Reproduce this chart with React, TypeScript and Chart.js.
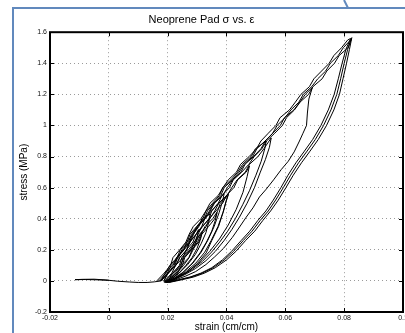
import React, { useEffect, useRef } from 'react';
import { Chart, registerables } from 'chart.js';

Chart.register(...registerables);

// ---------- axis ticks ----------
const xTicks = [-0.02, 0, 0.02, 0.04, 0.06, 0.08, 0.1];
const xTickLabels = ['-0.02', '0', '0.02', '0.04', '0.06', '0.08', '0.1'];
const yTicks = [-0.2, 0, 0.2, 0.4, 0.6, 0.8, 1.0, 1.2, 1.4, 1.6];
const yTickLabels = ['-0.2', '0', '0.2', '0.4', '0.6', '0.8', '1', '1.2', '1.4', '1.6'];

// ---------- data (strain cm/cm, stress MPa) ----------
const preloadStrain = [0.0, -0.004, -0.008, -0.0115, -0.009, -0.005, -0.001, 0.003, 0.007, 0.010, 0.013, 0.0155, 0.0178];
const preloadStress = [0.004, 0.007, 0.009, 0.008, 0.010, 0.011, 0.006, -0.002, -0.007, -0.010, -0.010, -0.006, 0.0];

// stress levels of the loading branches (shared); strain per cycle
const loadStress = [0, 0.05, 0.1, 0.15, 0.2, 0.25, 0.3, 0.35, 0.4, 0.45, 0.5, 0.55, 0.6, 0.65, 0.7, 0.75,
  0.8, 0.85, 0.9, 0.95, 1.0, 1.05, 1.1, 1.15, 1.2, 1.25, 1.3, 1.35, 1.4, 1.45, 1.5, 1.55];

const cycleA1Load = [0.0187, 0.0201, 0.0228, 0.0241, 0.0265, 0.0275, 0.0297];
const cycleA1UnloadStrain = [0.0305, 0.0300, 0.0289, 0.0273, 0.0254, 0.0231, 0.0207, 0.0186];
const cycleA1UnloadStress = [0.33, 0.28, 0.21, 0.15, 0.10, 0.05, 0.015, -0.005];

const cycleA2Load = [0.0198, 0.0223, 0.0245, 0.0253, 0.0276, 0.0297, 0.0308];
const cycleA2UnloadStrain = [0.0318, 0.0312, 0.0300, 0.0283, 0.0262, 0.0238, 0.0212, 0.0190];
const cycleA2UnloadStress = [0.32, 0.27, 0.21, 0.15, 0.10, 0.05, 0.015, -0.006];

const cycleG1Load = [0.0210, 0.0234, 0.0247, 0.0272, 0.0283, 0.0306, 0.0316, 0.0339, 0.0360];
const cycleG1UnloadStrain = [0.0368, 0.0362, 0.0350, 0.0332, 0.0310, 0.0282, 0.0250, 0.0218, 0.0192];
const cycleG1UnloadStress = [0.44, 0.39, 0.32, 0.25, 0.18, 0.11, 0.05, 0.01, -0.008];

const cycleG2Load = [0.0177, 0.0191, 0.0218, 0.0231, 0.0255, 0.0265, 0.0287, 0.0306, 0.0316];
const cycleG2UnloadStrain = [0.0345, 0.0340, 0.0330, 0.0314, 0.0294, 0.0268, 0.0238, 0.0210, 0.0188];
const cycleG2UnloadStress = [0.43, 0.38, 0.31, 0.24, 0.17, 0.105, 0.048, 0.01, -0.008];

const cycleB1Load = [0.0190, 0.0214, 0.0227, 0.0252, 0.0263, 0.0286, 0.0296, 0.0319, 0.0340, 0.0350, 0.0373];
const cycleB1UnloadStrain = [0.0407, 0.0400, 0.0390, 0.0373, 0.0350, 0.0331, 0.0300, 0.0262, 0.0225, 0.0195];
const cycleB1UnloadStress = [0.56, 0.52, 0.45, 0.35, 0.26, 0.18, 0.11, 0.05, 0.012, -0.008];

const cycleB2Load = [0.0203, 0.0228, 0.0250, 0.0258, 0.0281, 0.0302, 0.0313, 0.0327, 0.0353, 0.0370, 0.0379];
const cycleB2UnloadStrain = [0.0405, 0.0398, 0.0388, 0.0371, 0.0348, 0.0326, 0.0296, 0.0259, 0.0222, 0.0192];
const cycleB2UnloadStress = [0.55, 0.51, 0.44, 0.35, 0.26, 0.185, 0.115, 0.055, 0.013, -0.008];

const cycleB3Load = [0.0175, 0.0200, 0.0222, 0.0230, 0.0253, 0.0274, 0.0285, 0.0299, 0.0325, 0.0342, 0.0356];
const cycleB3UnloadStrain = [0.0392, 0.0386, 0.0375, 0.0358, 0.0336, 0.0314, 0.0286, 0.0252, 0.0218, 0.0190];
const cycleB3UnloadStress = [0.56, 0.51, 0.44, 0.35, 0.26, 0.185, 0.115, 0.055, 0.013, -0.008];

const cycleF1Load = [0.0202, 0.0216, 0.0243, 0.0256, 0.0280, 0.0290, 0.0312, 0.0331, 0.0341, 0.0364, 0.0387, 0.0400, 0.0425, 0.0438, 0.0467];
const cycleF1UnloadStrain = [0.0478, 0.0470, 0.0456, 0.0433, 0.0406, 0.0376, 0.0343, 0.0306, 0.0264, 0.0224, 0.0194];
const cycleF1UnloadStress = [0.74, 0.67, 0.57, 0.46, 0.36, 0.27, 0.19, 0.115, 0.055, 0.012, -0.008];

const cycleC1Load = [0.0193, 0.0218, 0.0240, 0.0248, 0.0271, 0.0292, 0.0303, 0.0317, 0.0343, 0.0360, 0.0374, 0.0402,
  0.0418, 0.0436, 0.0464, 0.0478, 0.0507, 0.0527];
const cycleC1UnloadStrain = [0.0552, 0.0546, 0.0532, 0.0515, 0.0495, 0.0470, 0.0444, 0.0418, 0.0392, 0.0362, 0.0330, 0.0295, 0.0258, 0.0222, 0.0195];
const cycleC1UnloadStress = [0.92, 0.86, 0.78, 0.70, 0.60, 0.50, 0.41, 0.33, 0.26, 0.19, 0.13, 0.08, 0.04, 0.008, -0.01];

const cycleC2Load = [0.0170, 0.0194, 0.0207, 0.0232, 0.0243, 0.0266, 0.0276, 0.0299, 0.0320, 0.0330, 0.0353, 0.0376,
  0.0387, 0.0415, 0.0438, 0.0455, 0.0484, 0.0498];
const cycleC2UnloadStrain = [0.0535, 0.0530, 0.0518, 0.0500, 0.0478, 0.0455, 0.0430, 0.0404, 0.0377, 0.0349, 0.0318, 0.0284, 0.0248, 0.0215, 0.0190];
const cycleC2UnloadStress = [0.90, 0.85, 0.77, 0.68, 0.58, 0.49, 0.40, 0.32, 0.25, 0.185, 0.125, 0.075, 0.035, 0.006, -0.01];

const cycleD1Load = [0.0178, 0.0203, 0.0225, 0.0233, 0.0256, 0.0277, 0.0288, 0.0302, 0.0328, 0.0345, 0.0359, 0.0387,
  0.0403, 0.0421, 0.0449, 0.0463, 0.0492, 0.0517, 0.0532, 0.0557, 0.0583, 0.0597, 0.0629, 0.0649, 0.0668];
const cycleD1UnloadStrain = [0.0692, 0.0680, 0.0675, 0.0672, 0.0660, 0.0648, 0.0630, 0.0610, 0.0586, 0.0560, 0.0535, 0.0512,
  0.0490, 0.0467, 0.0442, 0.0420, 0.0390, 0.0360, 0.0330, 0.0295, 0.0260, 0.0225, 0.0195];
const cycleD1UnloadStress = [1.245, 1.17, 1.08, 1.0, 0.95, 0.90, 0.83, 0.77, 0.716, 0.65, 0.59, 0.54,
  0.47, 0.41, 0.34, 0.28, 0.21, 0.155, 0.105, 0.06, 0.03, 0.006, -0.01];

const cycleE1Load = [0.0175, 0.0199, 0.0212, 0.0237, 0.0248, 0.0271, 0.0281, 0.0304, 0.0325, 0.0335, 0.0358, 0.0381,
  0.0392, 0.0420, 0.0443, 0.0460, 0.0489, 0.0503, 0.0531, 0.0557, 0.0572, 0.0599, 0.0619, 0.0646, 0.0661, 0.0690,
  0.0710, 0.0737, 0.0753, 0.0780, 0.0797, 0.0822];
const cycleE1UnloadStrain = [0.0826, 0.0818, 0.0808, 0.0796, 0.0784, 0.0765, 0.0740, 0.0712, 0.0682, 0.0655, 0.0627, 0.0602,
  0.0576, 0.0550, 0.0524, 0.0496, 0.0465, 0.0432, 0.0400, 0.0362, 0.0325, 0.0288, 0.0245, 0.0205];
const cycleE1UnloadStress = [1.565, 1.49, 1.40, 1.30, 1.20, 1.10, 1.00, 0.91, 0.83, 0.76, 0.68, 0.60,
  0.52, 0.45, 0.39, 0.32, 0.26, 0.19, 0.135, 0.085, 0.05, 0.025, 0.006, -0.01];

const cycleE2Load = [0.0187, 0.0201, 0.0228, 0.0241, 0.0265, 0.0275, 0.0297, 0.0316, 0.0326, 0.0349, 0.0372, 0.0385,
  0.0410, 0.0423, 0.0452, 0.0476, 0.0494, 0.0520, 0.0536, 0.0564, 0.0590, 0.0604, 0.0631, 0.0650, 0.0679, 0.0694,
  0.0725, 0.0741, 0.0767, 0.0783, 0.0813];
const cycleE2UnloadStrain = [0.0824, 0.0812, 0.0800, 0.0788, 0.0775, 0.0755, 0.0730, 0.0702, 0.0672, 0.0645, 0.0618, 0.0593,
  0.0567, 0.0542, 0.0515, 0.0487, 0.0457, 0.0424, 0.0392, 0.0355, 0.0318, 0.0280, 0.0238, 0.0200];
const cycleE2UnloadStress = [1.555, 1.49, 1.40, 1.30, 1.20, 1.10, 1.00, 0.91, 0.83, 0.76, 0.68, 0.60,
  0.52, 0.45, 0.39, 0.32, 0.26, 0.19, 0.135, 0.085, 0.05, 0.025, 0.006, -0.01];

const cycleE3Load = [0.0163, 0.0188, 0.0210, 0.0218, 0.0241, 0.0262, 0.0273, 0.0287, 0.0313, 0.0330, 0.0344, 0.0372,
  0.0388, 0.0406, 0.0434, 0.0448, 0.0477, 0.0502, 0.0517, 0.0542, 0.0568, 0.0582, 0.0614, 0.0634, 0.0653, 0.0682,
  0.0697, 0.0723, 0.0749, 0.0765, 0.0791, 0.0812];
const cycleE3UnloadStrain = [0.0822, 0.0806, 0.0793, 0.0780, 0.0766, 0.0746, 0.0721, 0.0693, 0.0663, 0.0636, 0.0609, 0.0585,
  0.0559, 0.0534, 0.0507, 0.0479, 0.0450, 0.0417, 0.0386, 0.0350, 0.0313, 0.0276, 0.0235, 0.0198];
const cycleE3UnloadStress = [1.56, 1.49, 1.40, 1.30, 1.20, 1.10, 1.00, 0.91, 0.83, 0.76, 0.68, 0.60,
  0.52, 0.45, 0.39, 0.32, 0.26, 0.19, 0.135, 0.085, 0.05, 0.025, 0.006, -0.01];

const FONT = "'Liberation Sans', Arial, Helvetica, sans-serif";

function pairs(xs: number[], ys: number[]) {
  return xs.map((x, i) => ({ x, y: ys[i] }));
}

function cycle(load: number[], unloadStrain: number[], unloadStress: number[]) {
  return pairs(load, loadStress.slice(0, load.length)).concat(pairs(unloadStrain, unloadStress));
}

const framePlugin = {
  id: 'matlabFrame',
  beforeDraw(chart: any) {
    const { ctx, width, height } = chart;
    ctx.save();
    ctx.fillStyle = '#ffffff';
    ctx.fillRect(0, 0, width, height);
    ctx.strokeStyle = '#6189bd';
    ctx.lineWidth = 2;
    ctx.beginPath();
    ctx.moveTo(13, height);
    ctx.lineTo(13, 8);
    ctx.lineTo(width, 8);
    ctx.stroke();
    ctx.beginPath();
    ctx.moveTo(344, 0);
    ctx.lineTo(348, 8);
    ctx.stroke();
    ctx.restore();
  },
  afterDatasetsDraw(chart: any) {
    const { ctx, chartArea } = chart;
    const { left, right, top, bottom } = chartArea;
    const xs = chart.scales.x;
    const ys = chart.scales.y;
    ctx.save();
    ctx.strokeStyle = '#000';
    ctx.lineWidth = 1;
    const tl = 4;
    ctx.beginPath();
    xTicks.forEach((v) => {
      const px = Math.round(xs.getPixelForValue(v)) + 0.5;
      ctx.moveTo(px, bottom);
      ctx.lineTo(px, bottom - tl);
      ctx.moveTo(px, top);
      ctx.lineTo(px, top + tl);
    });
    yTicks.forEach((v) => {
      const py = Math.round(ys.getPixelForValue(v)) + 0.5;
      ctx.moveTo(left, py);
      ctx.lineTo(left + tl, py);
      ctx.moveTo(right, py);
      ctx.lineTo(right - tl, py);
    });
    ctx.stroke();
    ctx.lineWidth = 2;
    ctx.strokeRect(left, top, right - left, bottom - top);
    ctx.restore();
  },
};

export default function App() {
  const canvasRef = useRef<HTMLCanvasElement | null>(null);

  useEffect(() => {
    if (!canvasRef.current) return;
    Chart.defaults.font.family = FONT;
    const lineStyle = {
      showLine: true,
      borderColor: '#000000',
      backgroundColor: '#000000',
      borderWidth: 1,
      pointRadius: 0,
      pointHoverRadius: 0,
      fill: false,
      tension: 0,
    };
    const datasets = [
      { label: 'preload', data: pairs(preloadStrain, preloadStress), ...lineStyle },
      { label: 'A1', data: cycle(cycleA1Load, cycleA1UnloadStrain, cycleA1UnloadStress), ...lineStyle },
      { label: 'A2', data: cycle(cycleA2Load, cycleA2UnloadStrain, cycleA2UnloadStress), ...lineStyle },
      { label: 'G1', data: cycle(cycleG1Load, cycleG1UnloadStrain, cycleG1UnloadStress), ...lineStyle },
      { label: 'G2', data: cycle(cycleG2Load, cycleG2UnloadStrain, cycleG2UnloadStress), ...lineStyle },
      { label: 'B1', data: cycle(cycleB1Load, cycleB1UnloadStrain, cycleB1UnloadStress), ...lineStyle },
      { label: 'B2', data: cycle(cycleB2Load, cycleB2UnloadStrain, cycleB2UnloadStress), ...lineStyle },
      { label: 'B3', data: cycle(cycleB3Load, cycleB3UnloadStrain, cycleB3UnloadStress), ...lineStyle },
      { label: 'F1', data: cycle(cycleF1Load, cycleF1UnloadStrain, cycleF1UnloadStress), ...lineStyle },
      { label: 'C1', data: cycle(cycleC1Load, cycleC1UnloadStrain, cycleC1UnloadStress), ...lineStyle },
      { label: 'C2', data: cycle(cycleC2Load, cycleC2UnloadStrain, cycleC2UnloadStress), ...lineStyle },
      { label: 'D1', data: cycle(cycleD1Load, cycleD1UnloadStrain, cycleD1UnloadStress), ...lineStyle },
      { label: 'E1', data: cycle(cycleE1Load, cycleE1UnloadStrain, cycleE1UnloadStress), ...lineStyle },
      { label: 'E2', data: cycle(cycleE2Load, cycleE2UnloadStrain, cycleE2UnloadStress), ...lineStyle },
      { label: 'E3', data: cycle(cycleE3Load, cycleE3UnloadStrain, cycleE3UnloadStress), ...lineStyle },
    ];

    const chart = new Chart(canvasRef.current, {
      type: 'scatter',
      data: { datasets },
      plugins: [framePlugin],
      options: {
        animation: false,
        responsive: false,
        devicePixelRatio: 1,
        layout: { padding: { left: 0, right: 2, top: 0, bottom: 0 } },
        plugins: {
          legend: { display: false },
          tooltip: { enabled: false },
          title: {
            display: true,
            text: 'Neoprene Pad σ vs. ε',
            color: '#000',
            font: { family: FONT, size: 11, weight: 'normal' },
            padding: { top: 13, bottom: 6 },
          },
        },
        scales: {
          x: {
            type: 'linear',
            min: -0.02,
            max: 0.1,
            afterBuildTicks: (scale: any) => {
              scale.ticks = xTicks.map((v) => ({ value: v }));
            },
            afterFit: (scale: any) => {
              scale.height = 21;
              scale.paddingLeft = 0;
              scale.paddingRight = 0;
            },
            grid: { color: '#9a9a9a', lineWidth: 1, drawTicks: false },
            border: { display: false, dash: [1, 3] },
            ticks: {
              padding: 2,
              autoSkip: false,
              maxRotation: 0,
              color: '#111',
              font: { family: FONT, size: 7 },
              callback: (_v: any, i: number) => xTickLabels[i],
            },
            title: {
              display: true,
              text: 'strain (cm/cm)',
              color: '#000',
              font: { family: FONT, size: 10 },
              padding: { top: 0, bottom: 0 },
            },
          },
          y: {
            type: 'linear',
            min: -0.2,
            max: 1.6,
            afterBuildTicks: (scale: any) => {
              scale.ticks = yTicks.map((v) => ({ value: v }));
            },
            afterFit: (scale: any) => {
              scale.width = 50;
              scale.paddingTop = 0;
              scale.paddingBottom = 0;
            },
            grid: { color: '#9a9a9a', lineWidth: 1, drawTicks: false },
            border: { display: false, dash: [1, 3] },
            ticks: {
              padding: 3,
              autoSkip: false,
              color: '#111',
              font: { family: FONT, size: 7 },
              callback: (_v: any, i: number) => yTickLabels[i],
            },
            title: {
              display: true,
              text: 'stress (MPa)',
              color: '#000',
              font: { family: FONT, size: 10 },
              padding: { top: 18, bottom: 0 },
            },
          },
        },
      },
    } as any);
    return () => chart.destroy();
  }, []);

  return (
    <div style={{ position: 'fixed', left: 0, top: 0, width: 405, height: 333, background: '#fff' }}>
      <canvas ref={canvasRef} width={405} height={333} style={{ display: 'block', width: 405, height: 333 }} />
    </div>
  );
}
